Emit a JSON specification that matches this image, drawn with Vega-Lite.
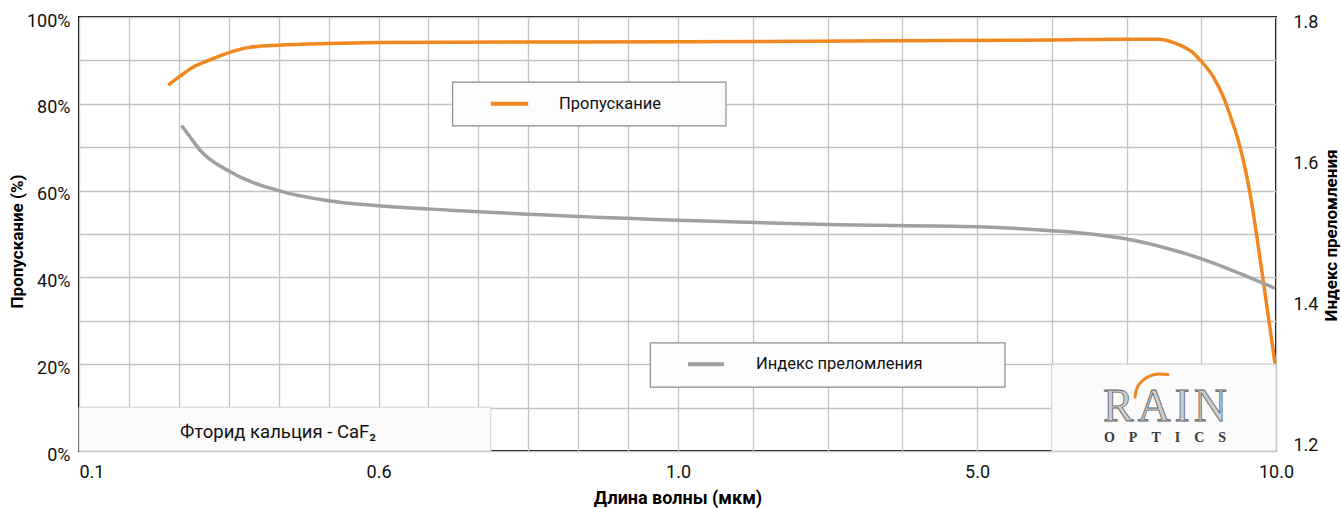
{
  "$schema": "https://vega.github.io/schema/vega-lite/v6.json",
  "width": 1197,
  "height": 434,
  "autosize": {"type": "none"},
  "padding": {"left": 79, "top": 17, "right": 65, "bottom": 57},
  "background": "white",
  "config": {
    "view": {"stroke": "#000000", "strokeWidth": 2},
    "font": "Roboto"
  },
  "datasets": {
    "trans": [
      {"w": 0.249, "p": 84.3}, {"w": 0.267, "p": 86.2}, {"w": 0.291, "p": 88.5}, {"w": 0.3185, "p": 90.1},
      {"w": 0.35, "p": 91.8}, {"w": 0.385, "p": 93.0}, {"w": 0.433, "p": 93.5}, {"w": 0.5165, "p": 93.9},
      {"w": 0.6, "p": 94.1}, {"w": 0.695, "p": 94.2}, {"w": 1.0, "p": 94.3}, {"w": 3.84, "p": 94.5},
      {"w": 6.24, "p": 94.7}, {"w": 7.49, "p": 94.9}, {"w": 8.03, "p": 94.9}, {"w": 8.395, "p": 93.5},
      {"w": 8.59, "p": 92.0}, {"w": 8.729, "p": 90.1}, {"w": 8.951, "p": 86.2}, {"w": 9.119, "p": 81.6},
      {"w": 9.259, "p": 76.3}, {"w": 9.398, "p": 70.1}, {"w": 9.565, "p": 59.4}, {"w": 9.761, "p": 41.7},
      {"w": 9.983, "p": 20.2}
    ],
    "index": [
      {"w": 0.2713, "n": 1.6486}, {"w": 0.2852, "n": 1.6326}, {"w": 0.302, "n": 1.6136}, {"w": 0.35, "n": 1.5838},
      {"w": 0.433, "n": 1.556}, {"w": 0.5166, "n": 1.5416}, {"w": 0.6, "n": 1.5344}, {"w": 0.695, "n": 1.5282},
      {"w": 1.0, "n": 1.5138}, {"w": 2.99, "n": 1.5077}, {"w": 5.0, "n": 1.5046}, {"w": 6.24, "n": 1.499},
      {"w": 6.94, "n": 1.4939}, {"w": 7.5, "n": 1.4871}, {"w": 8.14, "n": 1.4748}, {"w": 8.746, "n": 1.4593},
      {"w": 9.51, "n": 1.4341}, {"w": 9.983, "n": 1.4172}
    ],
    "infoBoxes": [
      {"w": 0.1, "w2": 0.75, "p": 0, "p2": 10.1},
      {"w": 6.25, "w2": 10, "p": 0, "p2": 20}
    ],
    "legendBoxes": [
      {"w": 0.699, "w2": 1.642, "p": 74.9, "p2": 85.0},
      {"w": 0.963, "w2": 5.468, "p": 14.7, "p2": 24.9}
    ],
    "legendOrange": [{"w": 0.75, "w2": 0.8, "p": 80}],
    "legendGray": [{"w": 1.134, "w2": 1.615, "p": 20}],
    "legendLabels": [
      {"w": 0.841, "p": 80, "label": "Пропускание"},
      {"w": 2.043, "p": 20, "label": "Индекс преломления"}
    ],
    "infoLabel": [
      {"w": 0.2685, "p": 4.4, "label": "Фторид кальция - CaF₂"}
    ],
    "arc": [
      {"w": 7.642, "p": 12.44}, {"w": 7.676, "p": 14.52}, {"w": 7.759, "p": 16.13},
      {"w": 7.876, "p": 17.17}, {"w": 8.027, "p": 17.74}, {"w": 8.194, "p": 17.63}
    ]
  },
  "encoding": {
    "x": {
      "field": "w",
      "type": "quantitative",
      "scale": {"domain": [0.1, 0.6, 1, 5, 10], "range": [0, 299.5, 599, 898, 1197], "nice": false, "zero": false},
      "axis": {
        "values": [0.1, 0.18333, 0.26667, 0.35, 0.43333, 0.51667, 0.6, 0.66667, 0.73333, 0.8, 0.86667, 0.93333, 1, 2, 3, 4, 5, 6.25, 7.5, 8.75, 10],
        "labelExpr": "indexof([0.1,0.6,1,5,10], datum.value) >= 0 ? format(datum.value, '.1f') : ''",
        "labelAlign": {"condition": {"test": "datum.value == 0.1", "value": "left"}, "value": "center"},
        "labelOverlap": false,
        "labelBound": false,
        "grid": true,
        "gridColor": "#c3c3c3",
        "gridWidth": 1.3,
        "ticks": false,
        "domain": false,
        "labelPadding": 12,
        "labelFontSize": 18,
        "labelColor": "#111111",
        "title": "Длина волны (мкм)",
        "titleFontSize": 18,
        "titleFontWeight": "bold",
        "titleColor": "#000000",
        "titleBaseline": "alphabetic",
        "titleY": 52.5
      }
    }
  },
  "layer": [
    {
      "encoding": {
        "y": {
          "field": "p",
          "type": "quantitative",
          "scale": {"domain": [0, 100], "nice": false},
          "axis": {
            "values": [0, 10, 20, 30, 40, 50, 60, 70, 80, 90, 100],
            "labelExpr": "datum.value % 20 == 0 ? datum.value + '%' : ''",
            "labelOverlap": false,
            "labelBound": false,
            "grid": true,
            "gridColor": "#c3c3c3",
            "gridWidth": 1.3,
            "ticks": false,
            "domain": false,
            "labelPadding": 9,
            "labelOffset": 4,
            "labelFontSize": 18,
            "labelColor": "#111111",
            "title": "Пропускание (%)",
            "titleFontSize": 17,
            "titleFontWeight": "bold",
            "titleColor": "#000000",
            "titleAngle": 270,
            "titleBaseline": "bottom",
            "titleX": -53,
            "titleY": 224
          }
        }
      },
      "layer": [
        {
          "data": {"name": "infoBoxes"},
          "mark": {"type": "rect", "fill": "#fbfbfb", "stroke": "#cfcfcf", "strokeWidth": 1},
          "encoding": {"x2": {"field": "w2"}, "y2": {"field": "p2"}}
        },
        {
          "data": {"name": "legendBoxes"},
          "mark": {"type": "rect", "fill": "#fcfcfc", "stroke": "#8c8c8c", "strokeWidth": 1.2},
          "encoding": {"x2": {"field": "w2"}, "y2": {"field": "p2"}}
        },
        {
          "data": {"name": "trans"},
          "mark": {"type": "line", "color": "#f0871f", "strokeWidth": 3.5, "interpolate": "monotone", "strokeCap": "butt"}
        },
        {
          "data": {"name": "legendOrange"},
          "mark": {"type": "rule", "color": "#f0871f", "strokeWidth": 4},
          "encoding": {"x2": {"field": "w2"}}
        },
        {
          "data": {"name": "legendGray"},
          "mark": {"type": "rule", "color": "#a0a0a0", "strokeWidth": 4},
          "encoding": {"x2": {"field": "w2"}}
        },
        {
          "data": {"name": "legendLabels"},
          "mark": {"type": "text", "align": "left", "baseline": "middle", "fontSize": 16.5, "color": "#111111"},
          "encoding": {"text": {"field": "label"}}
        },
        {
          "data": {"name": "infoLabel"},
          "mark": {"type": "text", "align": "left", "baseline": "middle", "fontSize": 18.5, "color": "#111111"},
          "encoding": {"text": {"field": "label"}}
        },
        {
          "data": {"name": "arc"},
          "mark": {"type": "line", "color": "#f0871f", "strokeWidth": 3, "interpolate": "natural", "strokeCap": "round"}
        },
        {
          "data": {"values": [{"w": 8.144, "p": 7.0, "label": "R\u200aA\u200aI\u200aN"}]},
          "mark": {"type": "text", "align": "center", "baseline": "alphabetic", "font": "Liberation Serif", "fontSize": 46, "fill": "#cdcdcd", "stroke": "#5e5e5e", "strokeWidth": 0.8},
          "encoding": {"text": {"field": "label"}}
        },
        {
          "data": {"values": [{"w": 8.144, "p": 2.0, "label": "O\u2003P\u2003T\u2003I\u2003C\u2003S"}]},
          "mark": {"type": "text", "align": "center", "baseline": "alphabetic", "font": "Liberation Serif", "fontSize": 14, "fontWeight": "bold", "color": "#3a3a3a"},
          "encoding": {"text": {"field": "label"}}
        }
      ]
    },
    {
      "data": {"name": "index"},
      "mark": {"type": "line", "color": "#a0a0a0", "strokeWidth": 3.5, "interpolate": "monotone"},
      "encoding": {
        "y": {
          "field": "n",
          "type": "quantitative",
          "scale": {"domain": [1.1858, 1.8028], "nice": false, "zero": false},
          "axis": {
            "orient": "right",
            "values": [1.2, 1.4, 1.6, 1.8],
            "format": ".1f",
            "grid": false,
            "ticks": false,
            "domain": false,
            "labelPadding": 17,
            "labelOffset": 4,
            "labelFontSize": 18,
            "labelColor": "#111111",
            "title": "Индекс преломления",
            "titleAngle": 270,
            "titleBaseline": "bottom",
            "titleX": 64,
            "titleY": 218,
            "titleFontSize": 17,
            "titleFontWeight": "bold",
            "titleColor": "#000000"
          }
        }
      }
    }
  ],
  "resolve": {"scale": {"y": "independent"}, "axis": {"y": "independent"}}
}
